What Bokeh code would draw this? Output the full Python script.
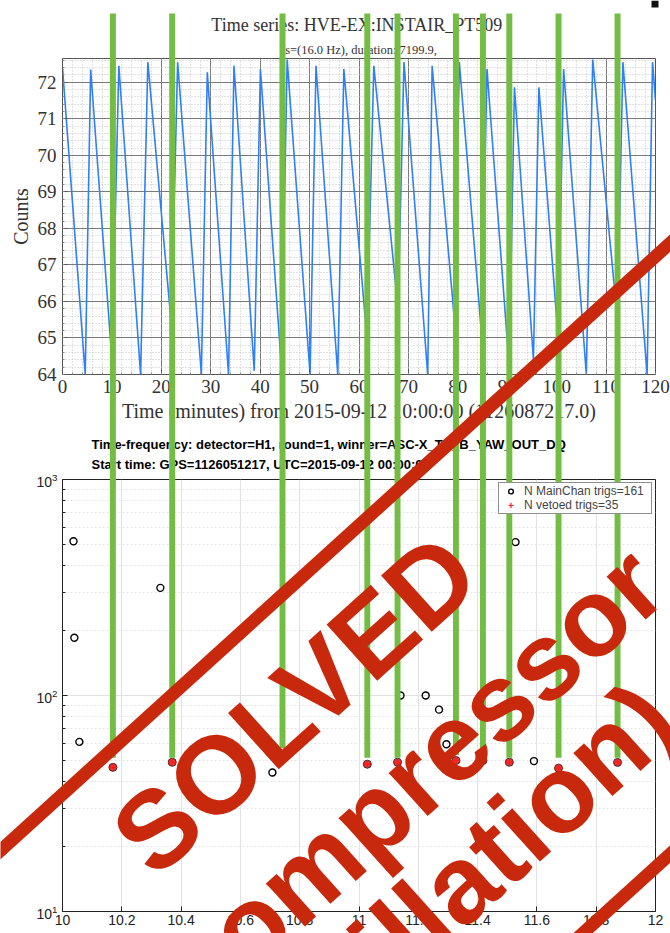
from bokeh.plotting import figure
from bokeh.layouts import column
from bokeh.models import (Range1d, SingleIntervalTicker, FixedTicker, Title,
                          BoxAnnotation, Legend, LegendItem, LogTickFormatter)
from bokeh.core.properties import value
from bokeh.embed import file_html
from bokeh.resources import INLINE

# ---------------- data ----------------
# top panel: pressure sawtooth, vertices (minutes after 10:00, counts)
ts_minutes = [0.0, 4.6, 5.7, 10.0, 11.4, 15.8, 17.27, 22.0, 23.3, 28.1, 29.3, 33.6, 34.7,
              38.8, 40.05, 44.3, 45.46, 50.1, 51.3, 55.7, 56.93, 61.6, 63.0, 67.9, 69.1,
              73.9, 74.8, 79.3, 80.3, 84.8, 85.9, 90.4, 91.46, 95.3, 96.4, 100.3, 101.4,
              106.0, 107.3, 112.3, 113.4, 118.3, 119.4, 120.0]
ts_counts = [72.4, 64.0, 72.35, 64.4, 72.45, 64.0, 72.55, 65.4, 72.55, 64.0, 72.27, 64.0, 72.45,
             64.1, 72.36, 64.2, 72.62, 64.0, 72.45, 64.0, 72.36, 65.0, 72.45, 65.8, 72.55,
             64.0, 72.45, 65.5, 72.55, 65.1, 72.36, 64.2, 71.86, 64.4, 71.86, 65.0, 72.36,
             64.0, 72.62, 65.5, 72.55, 64.0, 72.55, 71.5]
top_title = "Time series:  HVE-EX:INSTAIR_PT509"
top_subtitle = "fs=(16.0 Hz), duration: 7199.9,"
top_xlabel = "Time (minutes) from 2015-09-12 10:00:00 (1126087217.0)"
top_ylabel = "Counts"

# bottom panel: triggers (hours UTC, SNR)
bot_title1 = "Time-frequency: detector=H1, round=1, winner=ASC-X_TR_B_YAW_OUT_DQ"
bot_title2 = "Start time: GPS=1126051217, UTC=2015-09-12 00:00:00"
main_hours = [10.037, 10.040, 10.057, 10.330, 10.708, 11.140, 11.225, 11.270, 11.295, 11.528, 11.565, 11.590]
main_snr = [518, 185, 61, 315, 44, 100, 100, 86, 59.5, 513, 151, 49.7]
veto_hours = [10.170, 10.370, 10.742, 11.028, 11.130, 11.327, 11.418, 11.507, 11.673, 11.872]
veto_snr = [46.5, 49.1, 53, 48.1, 49.1, 50, 50, 49.1, 46.1, 49]
green_end_snr = [51.5, 51.5, 57, 51.5, 51.5, 53, 53, 51.5, 51.5, 51.5]
legend_main = "N MainChan trigs=161"
legend_veto = "N vetoed trigs=35"
bot_xticks = [10, 10.2, 10.4, 10.6, 10.8, 11, 11.2, 11.4, 11.6, 11.8, 12]
bot_xtick_labels = ["10", "10.2", "10.4", "10.6", "10.8", "11", "11.2", "11.4", "11.6", "11.8", "12"]
bot_yticks = [10, 100, 1000]
bot_yminor = [20, 30, 40, 50, 60, 70, 80, 90, 200, 300, 400, 500, 600, 700, 800, 900]

stamp_lines = ["SOLVED", "(compressor", "oscillation)"]

# ---------------- styles / page geometry ----------------
SERIF = "Liberation Serif"
SANS = "Liberation Sans"
GREEN = "#74bd44"
RED = "#c8290c"
BLUE = "#2f7ff5"
W = 670
H1, H2 = 427, 506
FL, FR = 62, 655            # frame left / right (page px) of both panels
F1T, F1B = 58, 374          # top panel frame top / bottom
F2T, F2B = 477, 911         # bottom panel frame top / bottom

# ---------------- top figure ----------------
p1 = figure(width=W, height=H1, x_range=Range1d(0, 120), y_range=Range1d(64, 72.65),
            output_backend="svg", toolbar_location=None, title=None,
            min_border_left=FL, min_border_right=W - FR, min_border_top=F1T,
            min_border_bottom=H1 - F1B)
p1.line(ts_minutes, ts_counts, line_color=BLUE, line_width=1.6)

p1.xaxis.ticker = SingleIntervalTicker(interval=10, num_minor_ticks=5)
p1.yaxis.ticker = SingleIntervalTicker(interval=1, num_minor_ticks=5)
for ax in (p1.xaxis[0], p1.yaxis[0]):
    ax.major_label_text_font = SERIF
    ax.major_label_text_font_size = "19px"
    ax.major_label_text_color = "#333333"
    ax.axis_label_text_font = SERIF
    ax.axis_label_text_font_size = "20px"
    ax.axis_label_text_font_style = "normal"
    ax.axis_label_text_color = "#333333"
    ax.major_tick_in = 5
    ax.major_tick_out = 0
    ax.minor_tick_in = 2
    ax.minor_tick_out = 0
    ax.axis_line_color = "#555555"
    ax.major_tick_line_color = "#555555"
    ax.minor_tick_line_color = "#888888"
p1.xaxis.axis_label = top_xlabel
p1.xaxis.major_label_standoff = 5
p1.xaxis.axis_label_standoff = 4
p1.yaxis.axis_label = top_ylabel
p1.yaxis.major_label_standoff = 6
p1.yaxis.axis_label_standoff = 3
for g in (p1.xgrid[0], p1.ygrid[0]):
    g.grid_line_color = "#7a7a7a"
    g.grid_line_width = 1
    g.minor_grid_line_color = "#c4c4c4"
    g.minor_grid_line_dash = "1 2"
p1.outline_line_color = "#555555"

p1.add_layout(Title(text=top_subtitle, align="center", text_font=SERIF, text_font_size="12.5px",
                    text_font_style="normal", text_color="#333333", standoff=3), "above")
p1.add_layout(Title(text=top_title, align="center", text_font=SERIF, text_font_size="18px",
                    text_font_style="normal", text_color="#333333", standoff=10), "above")

# ---------------- bottom figure ----------------
p2 = figure(width=W, height=H2, x_range=Range1d(10, 12), y_range=Range1d(10, 1000),
            y_axis_type="log", output_backend="svg", toolbar_location=None, title=None,
            min_border_left=FL, min_border_right=W - FR, min_border_top=F2T - H1,
            min_border_bottom=H1 + H2 - F2B)
p2.xaxis.ticker = FixedTicker(ticks=bot_xticks, minor_ticks=[])
p2.xaxis.major_label_overrides = dict(zip(bot_xticks, bot_xtick_labels))
p2.yaxis.ticker = FixedTicker(ticks=bot_yticks, minor_ticks=bot_yminor)
p2.yaxis.formatter = LogTickFormatter()
for ax in (p2.xaxis[0], p2.yaxis[0]):
    ax.major_label_text_font = SANS
    ax.major_label_text_font_size = "14px"
    ax.major_label_text_color = "#222222"
    ax.major_tick_in = 5
    ax.major_tick_out = 0
    ax.minor_tick_in = 3
    ax.minor_tick_out = 0
    ax.axis_line_color = "#222222"
    ax.major_tick_line_color = "#222222"
    ax.minor_tick_line_color = "#222222"
p2.xaxis.major_label_standoff = 3
p2.yaxis.major_label_standoff = 5
p2.xgrid.grid_line_color = "#e2e2e2"
p2.ygrid.grid_line_color = "#e2e2e2"
p2.ygrid.minor_grid_line_color = "#e4e4e4"
p2.ygrid.minor_grid_line_dash = "2 2"
p2.outline_line_color = "#222222"

r_main = p2.scatter(main_hours, main_snr, marker="circle", size=7, fill_color=None,
                    line_color="black", line_width=1.4)
r_vdot = p2.scatter(veto_hours, veto_snr, marker="circle", size=8, fill_color="#f03030",
                    line_color="#333333", line_width=1)
r_vplus = p2.scatter(veto_hours, veto_snr, marker="cross", size=8, line_color="#ff1a1a",
                     line_width=1.2)
legend = Legend(items=[LegendItem(label=legend_main, renderers=[r_main]),
                       LegendItem(label=legend_veto, renderers=[r_vplus])],
                location="top_right", margin=3, padding=1, spacing=0,
                glyph_height=12, glyph_width=21, label_height=12, label_width=126,
                label_standoff=3, label_text_font=SANS, label_text_font_size="12px",
                border_line_color="#222222", border_line_width=0.7,
                background_fill_color="white", background_fill_alpha=1)
p2.add_layout(legend)

p2.add_layout(Title(text=bot_title1 + "\n" + bot_title2, align="left", offset=29,
                    text_font=SANS, text_font_size="13px", text_line_height=1.38,
                    text_font_style="bold", text_color="black", standoff=14), "above")

# green veto markers inside the trigger frame, down to just above each vetoed trigger
for h, end in zip(veto_hours, green_end_snr):
    p2.add_layout(BoxAnnotation(left=h - 0.01, right=h + 0.01, bottom=end, top=2000,
                                fill_color=GREEN, fill_alpha=1, line_color=None, level="overlay"))

# ---------------- transparent overlay over the whole page ----------------
# x in hours, aligned with both panels' x axes; y in page pixels (top = 0)
XS = 10 - FL / (FR - FL) * 2
XE = 12 + (W - FR) / (FR - FL) * 2
p3 = figure(width=W, height=H1 + H2, x_range=Range1d(XS, XE), y_range=Range1d(H1 + H2, 0),
            x_axis_type=None, y_axis_type=None, output_backend="svg", toolbar_location=None,
            title=None, min_border=0, min_border_left=0, min_border_right=0,
            min_border_top=0, min_border_bottom=0,
            background_fill_alpha=0, border_fill_alpha=0, outline_line_color=None,
            styles={"position": "absolute", "top": "0px", "left": "0px", "z-index": "10"})
p3.extra_x_ranges = {"px": Range1d(0, W)}

# green veto markers continued up through the time series panel and titles
n = len(veto_hours)
p3.segment(x0=veto_hours, y0=[13] * n, x1=veto_hours, y1=[F2T + 3] * n,
           line_color=GREEN, line_width=6)

# small dark mark at the top-right corner of the picture
p3.quad(left=[651], right=[658], top=[0], bottom=[7], fill_color="#111111", line_color=None,
        x_range_name="px")

# "SOLVED" stamp (page pixels)
def border(px):
    return 850 - 0.907 * px

p3.segment(x0=[-40, -40], y0=[border(-40), border(-40) + 611], x1=[720, 720],
           y1=[border(720), border(720) + 611], line_color=RED, line_width=13,
           x_range_name="px")
p3.text(x=[294, 398, 442], y=[703, 790, 897], text=stamp_lines, angle=42, angle_units="deg",
        text_align="center", text_baseline="middle", text_font=value(SANS),
        text_font_style="bold", text_font_size=value("110px"), text_color=RED,
        x_range_name="px")

layout = column(p1, p2)
open("out.html", "w").write(file_html([layout, p3], INLINE))
